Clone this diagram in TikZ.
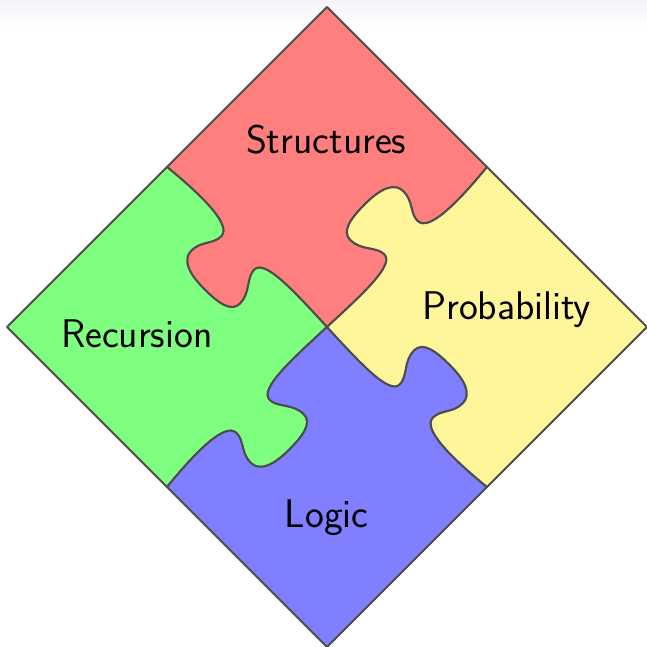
\documentclass[tikz,border=0pt]{standalone}
\usepackage{fontspec}
\definecolor{pzred}{RGB}{255,127,127}
\definecolor{pzgreen}{RGB}{127,255,127}
\definecolor{pzblue}{RGB}{127,127,255}
\definecolor{pzyellow}{RGB}{255,245,155}
\definecolor{pzline}{RGB}{77,77,77}
\definecolor{pztop}{RGB}{244,244,250}
\tikzset{
  piece/.style={draw=pzline, line width=2pt, line join=round},
  label/.style={font=\sffamily\fontsize{40}{48}\selectfont, anchor=base, inner sep=0pt, text=black}
}
\begin{document}
\begin{tikzpicture}[x=1pt,y=1pt]
\useasboundingbox (0,0) rectangle (647,647);
\fill[white] (0,0) rectangle (647,647);
\shade[top color=pztop, bottom color=white] (0,620) rectangle (647,647);
\begin{scope}[shift={(327,320)}, rotate=45]
\foreach \ang/\col in {0/pzred,90/pzgreen,180/pzblue,270/pzyellow}{
  \filldraw[piece, fill=\col, rotate=\ang]
    (0,0) .. controls (50,-2) and (92,-4) .. (92,11)
    .. controls (92,22) and (78,30) .. (78,45)
    .. controls (78,58) and (95,60) .. (114,60)
    .. controls (135,60) and (150,55) .. (150,42)
    .. controls (150,28) and (139,22) .. (139,11)
    .. controls (139,-4) and (176,-5) .. (226.27,0)
    -- (226.27,226.27) -- (0,226.27)
    .. controls (5,176) and (4,139) .. (-11,139)
    .. controls (-22,139) and (-28,150) .. (-42,150)
    .. controls (-55,150) and (-60,135) .. (-60,114)
    .. controls (-60,95) and (-58,78) .. (-45,78)
    .. controls (-30,78) and (-22,92) .. (-11,92)
    .. controls (4,92) and (2,50) .. (0,0) -- cycle;
}
\end{scope}
\node[label] (structures) at (326.2,493.7) {Structures};
\node[label] (recursion) at (136.7,299.7) {Recursion};
\node[label] (probability) at (506.7,327) {Probability};
\node[label] (logic) at (326.7,119.7) {Logic};
\end{tikzpicture}
\end{document}
